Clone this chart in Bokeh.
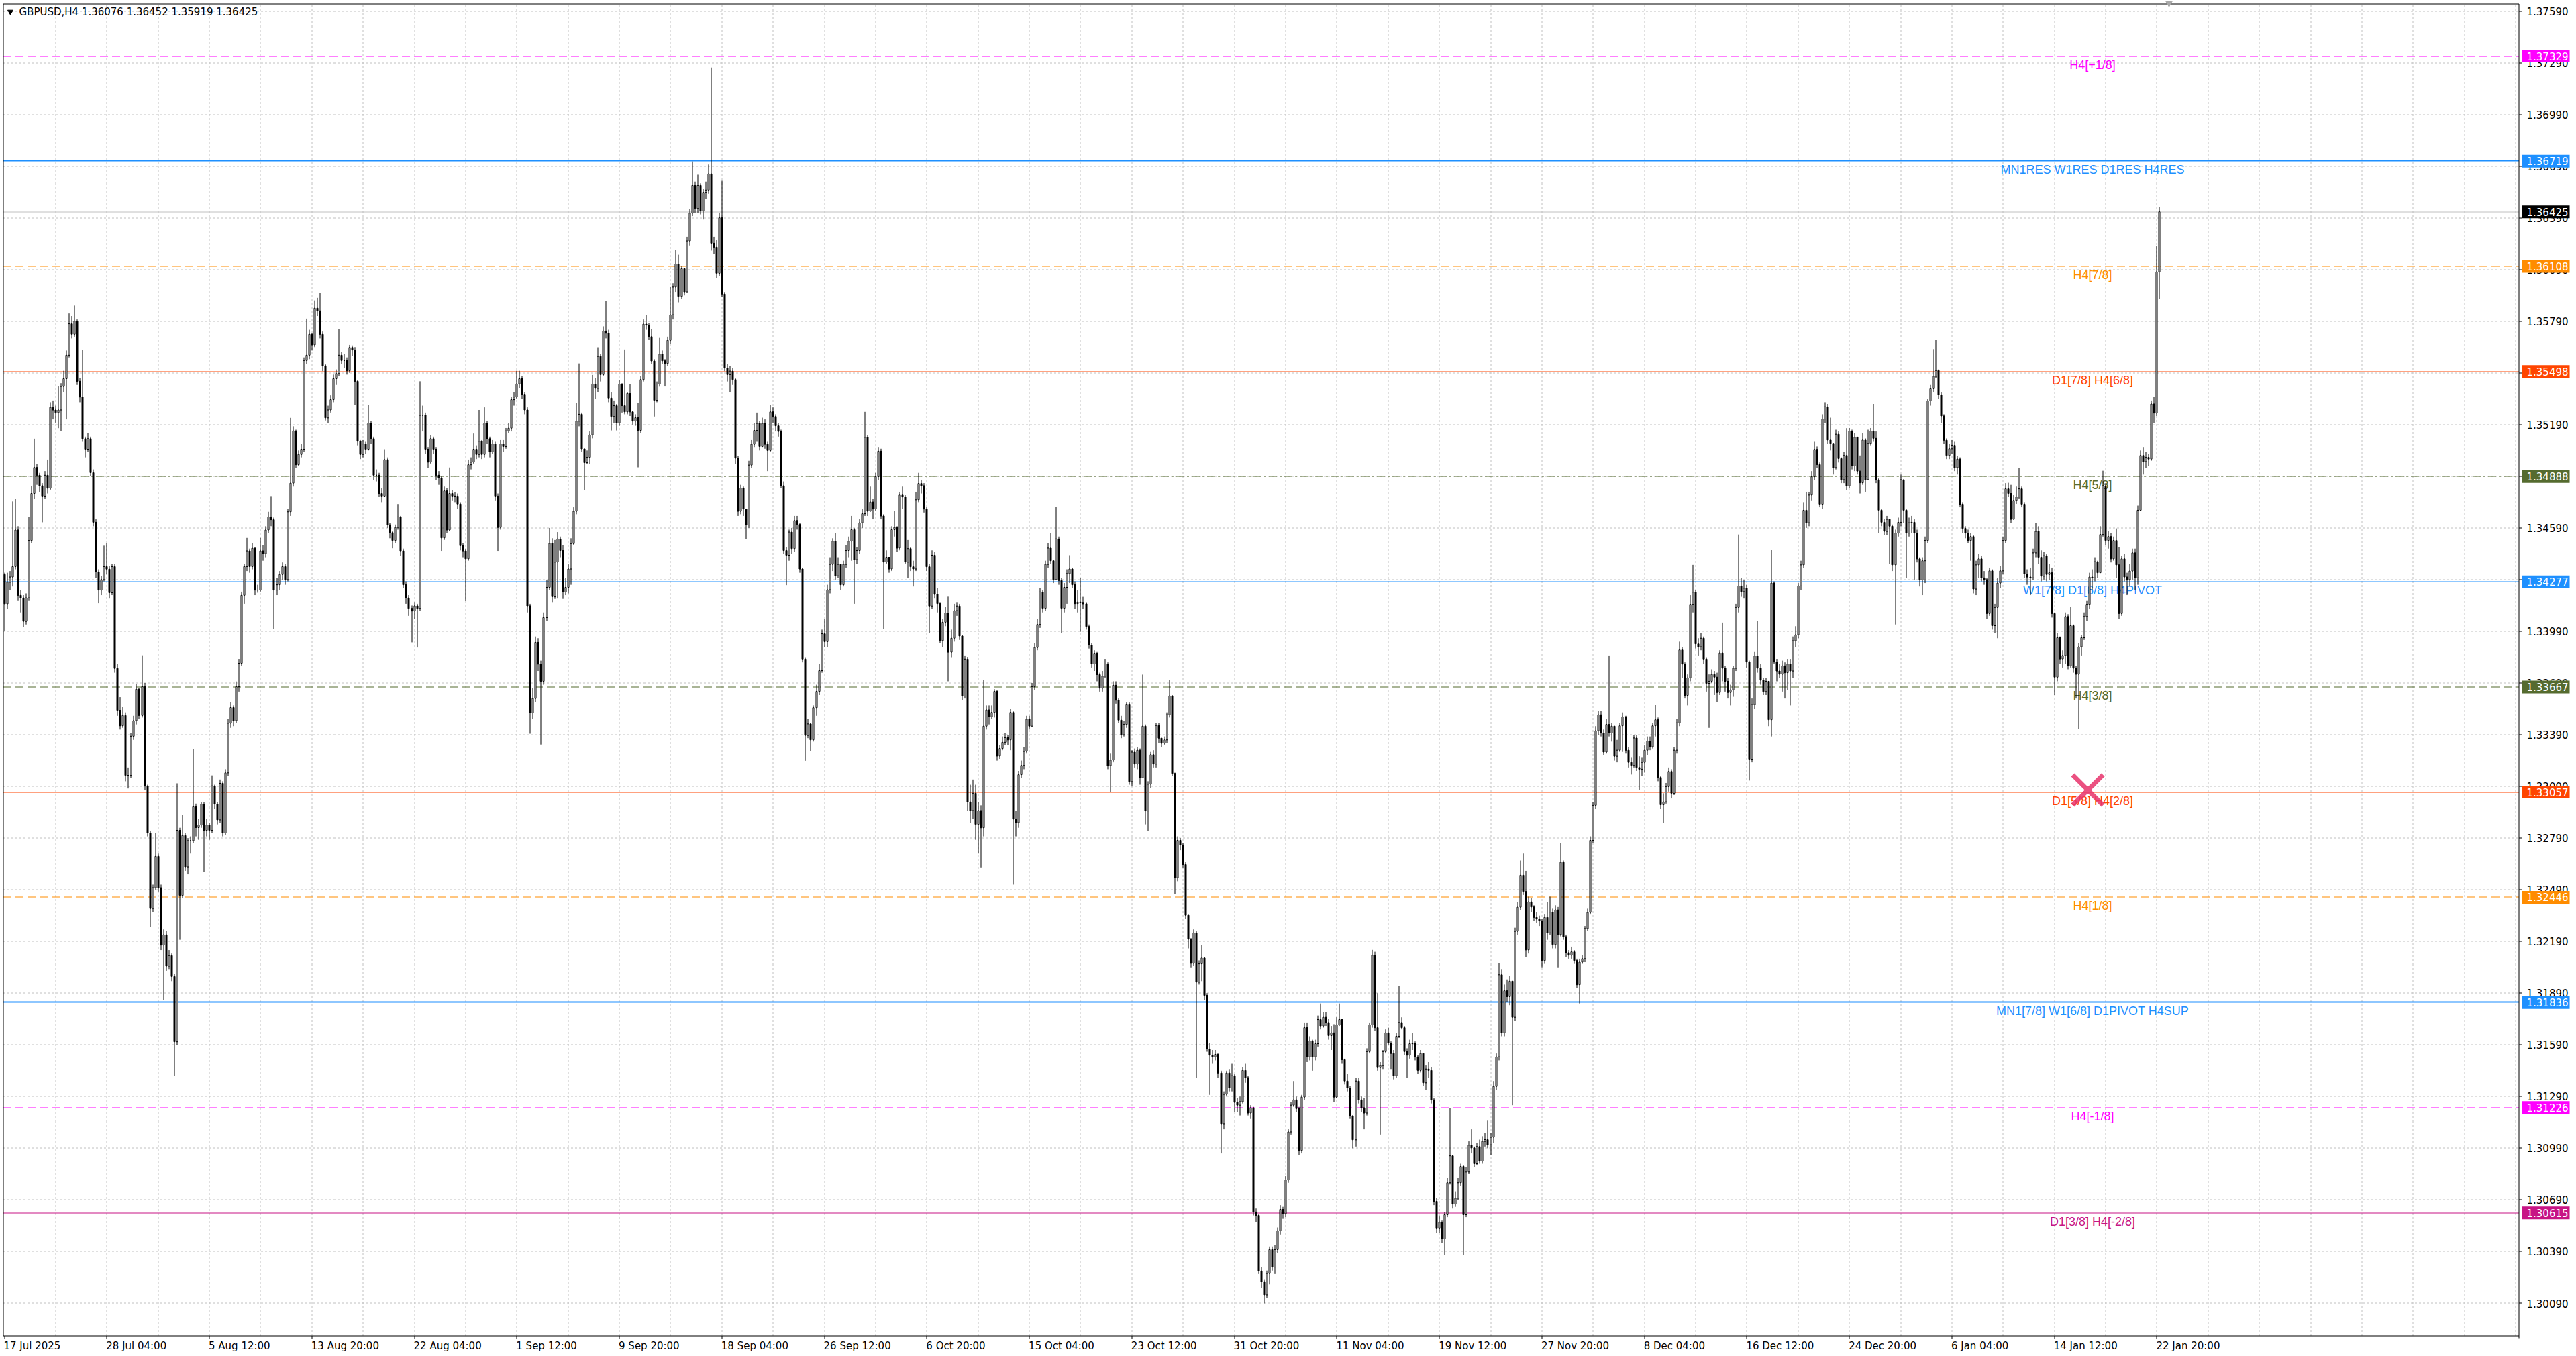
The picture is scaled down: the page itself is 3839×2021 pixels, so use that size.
import numpy as np
from bokeh.plotting import figure
from bokeh.models import ColumnDataSource, Range1d
from bokeh.core.properties import value
from bokeh.embed import file_html
from bokeh.resources import INLINE

title_text = "GBPUSD,H4  1.36076 1.36452 1.35919 1.36425"

# H4 bars, prices in points above 1.30000 (1 point = 0.00001); open = previous close
first_open = 4320
close_pts = [
    4150, 4275, 4305, 4366, 4578, 4199, 4184, 4048, 4184, 4517,
    4790, 4941, 4896, 4835, 4775, 4896, 4820, 5290, 5275, 5260,
    5275, 5411, 5456, 5593, 5775, 5714, 5790, 5441, 5350, 5108,
    5047, 5108, 4911, 4623, 4335, 4229, 4290, 4366, 4351, 4214,
    4366, 3775, 3532, 3442, 3502, 3154, 3154, 3381, 3472, 3654,
    3502, 3669, 3093, 2820, 2381, 2502, 2684, 2502, 2169, 2229,
    2047, 2108, 1987, 1608, 2835, 2457, 2805, 2623, 2775, 2775,
    2972, 2851, 2866, 2987, 2835, 2866, 2835, 3093, 2987, 2896,
    3108, 2820, 3169, 3457, 3548, 3472, 3669, 3805, 4199, 4366,
    4457, 4366, 4472, 4229, 4229, 4457, 4441, 4578, 4654, 4638,
    4229, 4260, 4320, 4366, 4290, 4684, 4850, 5153, 4957, 5017,
    5047, 5562, 5593, 5714, 5653, 5866, 5850, 5714, 5532, 5229,
    5275, 5335, 5456, 5486, 5593, 5562, 5562, 5502, 5638, 5623,
    5441, 5093, 5017, 5078, 5047, 5199, 5108, 4896, 4896, 4790,
    4775, 4987, 4608, 4563, 4517, 4593, 4654, 4457, 4260, 4184,
    4123, 4108, 4138, 4123, 5244, 5244, 5047, 4972, 5108, 5047,
    4896, 4881, 4532, 4805, 4578, 4790, 4775, 4775, 4729, 4487,
    4457, 4411, 4957, 4972, 5047, 5017, 5093, 5017, 5199, 5108,
    5032, 5078, 4775, 4593, 5078, 5063, 5153, 5169, 5335, 5350,
    5426, 5456, 5366, 5275, 4138, 3517, 3600, 3926, 3800, 3700,
    4070, 4245, 4500,
    4191, 4392, 4526, 4459, 4218, 4245, 4352, 4499, 4687, 5210,
    5250, 5049, 4969, 5000, 5130, 5425, 5400, 5586, 5480, 5733,
    5720, 5344, 5237, 5300, 5200, 5425, 5300, 5264, 5371, 5264,
    5210, 5230, 5156, 5451, 5773, 5767, 5700, 5559, 5331, 5425,
    5599, 5560, 5545, 5679, 5827, 5988, 6122, 5934, 6095, 5960,
    6256, 6417, 6578, 6444, 6578, 6430, 6538, 6551, 6645, 6243,
    6220, 6068, 6390, 5948, 5518, 5480, 5500, 5451, 4995, 4687,
    4821, 4700, 4607, 4955, 5076, 5156, 5197, 5063, 5197, 5076,
    5040, 5264, 5237, 5183, 5150, 4835, 4459, 4432, 4566, 4470,
    4633, 4610, 4352, 3829, 3386, 3453, 3360, 3547, 3641, 3762,
    3976, 3930, 4231, 4379, 4513, 4312, 4379, 4260, 4379, 4459,
    4513, 4580, 4406, 4459, 4620, 4673, 5116, 4687, 4741, 4700,
    4888, 5036, 4660, 4392, 4420, 4352, 4580, 4593, 4473, 4781,
    4770, 4392, 4470, 4365, 4352, 4754, 4848, 4835, 4700, 4365,
    4137, 4432, 4204, 4151, 3936, 4043, 4097, 3869, 3950, 4110,
    4137, 3963, 3614, 3829,
    3000, 2950, 3050, 2870, 2950, 2850, 3440, 3534, 3494, 3520,
    3641, 3266, 3310, 3346, 3373, 3360, 3520, 2900, 2880, 3158,
    3212, 3293, 3480, 3440, 3668, 3896, 4030, 4218, 4124, 4379,
    4473, 4400, 4290, 4526, 4285, 4124, 4245, 4325, 4352, 4260,
    4151, 4160,
    4158, 4150, 4018, 3910, 3801, 3863, 3739, 3660, 3730, 3801,
    3211, 3243, 3677, 3590, 3475, 3390, 3450, 3568, 3118, 3289,
    3220, 3300, 3140, 3440, 2948, 3103, 3274, 3220, 3444, 3370,
    3340, 3360, 3506, 3615, 3165, 2560, 2777, 2750, 2637, 2342,
    2203, 2063, 2240, 1954, 2060, 2094, 1877, 1566, 1530, 1520,
    1535, 1427, 1132, 1303, 1427, 1340, 1411, 1256, 1240, 1260,
    1442, 1400, 1194, 1225, 620, 600, 278, 216, 139, 263,
    402, 300, 402, 511, 635, 610, 806, 1085, 1240, 1271,
    1220, 977, 1287, 1690, 1520, 1613, 1520, 1597, 1737, 1700,
    1750, 1720, 1644, 1660, 1287, 1706, 1737, 1504, 1380, 1340,
    1178, 1039, 1380, 1271, 1225, 1194, 1551, 1706, 2110, 1690,
    1458, 1470, 1551, 1660, 1600, 1540, 1411, 1640, 1720, 1690,
    1551, 1530, 1597, 1600, 1520, 1442, 1540, 1370, 1450, 1442,
    1271, 682, 527, 560, 464, 604, 790, 946, 666, 700,
    790, 884, 604, 852, 1008, 992, 900, 1000, 915, 1030,
    1040, 1010, 1054, 1349, 1520, 1997, 1660, 1904, 1870, 1960,
    1750, 2249, 2389, 2575, 2480, 2141, 2420, 2390, 2330, 2320,
    2310, 2079, 2330, 2240, 2360, 2172, 2373, 2230, 2650, 2218,
    2125, 2110, 2130, 2079, 1939, 2070, 2090, 2265, 2358, 2777,
    2980, 3413, 3506, 3400, 3289, 3450, 3400, 3440,
    3265, 3300, 3442, 3494, 3300, 3230, 3212, 3371, 3200, 3190,
    3230, 3300, 3353, 3320, 3442, 3477, 3142, 2983, 3000, 3089,
    3177, 3050, 3300, 3459, 3882, 3800, 3618, 3720, 4147, 4217,
    3917, 3900, 3950, 3829, 3688, 3700, 3740, 3724, 3635, 3865,
    3776, 3700, 3635, 3650, 3776, 4129, 4253, 4220, 4240, 3812,
    3248, 3565, 3847,
    3776, 3706, 3640, 3700, 3477, 4270, 3812, 3760, 3741, 3790,
    3750, 3800, 3760, 3935, 3970, 4253, 4376, 4693, 4620, 4781,
    4887, 5046, 4958, 4728, 5222, 5293, 5100, 5081, 4940, 5134,
    4993, 4870, 5011, 4834, 5152, 4950, 5116, 4920, 4852, 5100,
    4870, 5081, 5152, 5110, 4870, 4693, 4623, 4570, 4640, 4600,
    4376, 4560, 4623, 4870, 4693, 4560, 4620, 4623, 4560, 4411,
    4288, 4400, 4517, 5328, 5398, 5470, 5504, 5363, 5240, 5099,
    5011, 5050, 5070, 4940, 4990, 4728, 4587, 4560, 4517, 4540,
    4235, 4376, 4411, 4300, 4290, 4094, 4341, 4023, 4129, 4270,
    4341, 4517, 4817, 4790, 4640, 4750, 4770, 4817, 4728, 4323,
    4305, 4300, 4446, 4570, 4420, 4310, 4429, 4320, 4330, 4094,
    3724, 3953, 3830, 3850, 4076, 3790, 4023, 3776, 3741, 3900,
    3953, 4076, 4147, 4305, 4300, 4394, 4330, 4552, 4834, 4517,
    4540, 4411, 4517, 4376, 4094, 4411, 4305, 4290, 4340, 4446,
    4300, 4693, 5011, 4975, 5000, 4990, 5310, 5257, 6076, 6425,
]
high_pts = [
    4330, 4330, 4340, 4744, 4760, 4600, 4230, 4200, 4210, 4654,
    4835, 5108, 4960, 4910, 4850, 4920, 4987, 5320, 5330, 5300,
    5411, 5430, 5502, 5620, 5835, 5820, 5881, 5800, 5460, 5623,
    5120, 5140, 5120, 4930, 4640, 4350, 4310, 4487, 4502, 4370,
    4381, 4380, 3800, 3608, 3550, 3520, 3200, 3400, 3500, 3684,
    3660, 3851, 3690, 3100, 2830, 2520, 2820, 2700, 2520, 2260,
    2250, 2140, 2120, 2000, 3108, 2850, 2926, 2820, 2790, 2800,
    3305, 2990, 2900, 3000, 3000, 2900, 2880, 3154, 3100, 3000,
    3130, 3120, 3190, 3480, 3580, 3560, 3699, 3830, 4220, 4380,
    4532, 4470, 4500, 4480, 4260, 4532, 4490, 4600, 4684, 4775,
    4650, 4300, 4340, 4390, 4380, 4700, 5229, 5180, 5160, 5040,
    5080, 5580, 5805, 5740, 5720, 5911, 5926, 5956, 5730, 5540,
    5300, 5360, 5480, 5510, 5744, 5610, 5600, 5580, 5653, 5650,
    5640, 5450, 5100, 5100, 5090, 5305, 5210, 5120, 4930, 4910,
    4820, 5047, 5000, 4620, 4570, 4610, 4729, 4660, 4470, 4280,
    4200, 4140, 4160, 4150, 5441, 5300, 5260, 5060, 5130, 5120,
    5060, 4920, 4890, 4830, 4820, 4941, 4810, 4800, 4790, 4740,
    4500, 4470, 4987, 5000, 5138, 5070, 5275, 5100, 5290, 5210,
    5120, 5100, 5090, 4790, 5100, 5100, 5170, 5200, 5350, 5380,
    5502, 5502, 5470, 5380, 5290, 4150, 3660, 3960, 3950, 3820,
    4100, 4290, 4590,
    4530, 4520, 4566, 4540, 4490, 4300, 4380, 4530, 4710, 5317,
    5545, 5260, 5050, 5040, 5150, 5478, 5460, 5639, 5600, 5760,
    5907, 5740, 5380, 5330, 5310, 5450, 5430, 5626, 5380, 5425,
    5270, 5250, 5317, 5470, 5800, 5827, 5780, 5746, 5570, 5440,
    5693, 5620, 5570, 5700, 5988, 6010, 6202, 6176, 6110, 6100,
    6280, 6440, 6717, 6600, 6640, 6590, 6560, 6600, 6699, 7262,
    6280, 6260, 6420, 6605, 5960, 5540, 5530, 5520, 5460, 5010,
    4840, 4830, 4700, 4980, 5100, 5200, 5260, 5210, 5230, 5220,
    5090, 5304, 5290, 5250, 5200, 5160, 4860, 4480, 4580, 4590,
    4660, 4660, 4620, 4360, 3840, 3480, 3460, 3560, 3680, 3800,
    4000, 4060, 4260, 4420, 4530, 4560, 4420, 4380, 4400, 4490,
    4540, 4660, 4590, 4480, 4640, 4700, 5264, 5130, 4830, 4760,
    4910, 5060, 5050, 4670, 4460, 4420, 4600, 4690, 4600, 4800,
    4830, 4780, 4520, 4480, 4400, 4800, 4910, 4870, 4850, 4710,
    4380, 4460, 4450, 4240, 4160, 4060, 4130, 4191, 4000, 4150,
    4160, 4150, 3970, 3850,
    3842, 3100, 3130, 3100, 3000, 2980, 3708, 3560, 3560, 3560,
    3654, 3650, 3330, 3380, 3400, 3390, 3540, 3530, 2950, 3180,
    3240, 3320, 3500, 3500, 3690, 3920, 4060, 4240, 4230, 4400,
    4500, 4560, 4400, 4714, 4540, 4300, 4270, 4350, 4432, 4360,
    4280, 4230,
    4300, 4190, 4160, 4030, 3920, 3880, 3870, 3750, 3760, 3830,
    3810, 3280, 3700, 3700, 3600, 3500, 3470, 3580, 3580, 3300,
    3310, 3320, 3310, 3739, 3450, 3120, 3290, 3300, 3460, 3460,
    3370, 3380, 3520, 3708, 3620, 3170, 2800, 2790, 2760, 2650,
    2350, 2210, 2260, 2250, 2080, 2170, 2100, 1890, 1600, 1560,
    1560, 1540, 1440, 1320, 1440, 1450, 1480, 1420, 1280, 1290,
    1460, 1480, 1410, 1240, 1230, 640, 610, 300, 230, 280,
    420, 420, 430, 530, 660, 650, 830, 1100, 1260, 1380,
    1290, 1230, 1300, 1720, 1720, 1640, 1620, 1620, 1760, 1830,
    1780, 1780, 1740, 1700, 1710, 1750, 1830, 1740, 1510, 1420,
    1350, 1180, 1400, 1400, 1290, 1280, 1570, 1720, 2141, 2130,
    1890, 1490, 1560, 1680, 1690, 1610, 1560, 1660, 1930, 1750,
    1700, 1570, 1620, 1660, 1610, 1530, 1560, 1540, 1470, 1490,
    1460, 1280, 700, 600, 570, 620, 820, 1225, 950, 740,
    820, 900, 890, 880, 1030, 1100, 1000, 1020, 1040, 1060,
    1080, 1150, 1080, 1380, 1540, 2063, 2030, 1940, 1970, 1990,
    1960, 2270, 2420, 2660, 2700, 2600, 2450, 2440, 2400, 2360,
    2340, 2320, 2350, 2420, 2450, 2380, 2400, 2390, 2760, 2660,
    2230, 2140, 2160, 2140, 2090, 2090, 2110, 2280, 2380, 2800,
    3000, 3440, 3530, 3530, 3420, 3480, 3850, 3460,
    3430, 3360, 3460, 3520, 3500, 3320, 3260, 3390, 3390, 3265,
    3260, 3330, 3380, 3380, 3460, 3565, 3490, 3150, 3050, 3110,
    3200, 3190, 3320, 3480, 3930, 3900, 3810, 3740, 4200, 4376,
    4230, 3950, 3980, 3960, 3840, 3740, 3770, 3760, 3750, 3880,
    4041, 3790, 3720, 3680, 3790, 4150, 4552, 4300, 4290, 4260,
    3820, 3600, 3870,
    4050, 3800, 3720, 3720, 3700, 4464, 4280, 3830, 3800, 3820,
    3810, 3830, 3830, 3960, 4020, 4270, 4400, 4740, 4800, 4800,
    4920, 5090, 5063, 4970, 5250, 5320, 5310, 5230, 5060, 5160,
    5150, 5000, 5030, 5169, 5170, 5160, 5140, 5120, 5011, 5140,
    5110, 5160, 5170, 5310, 5150, 4880, 4700, 4640, 4660, 4640,
    4610, 4580, 4650, 4900, 4740, 4700, 4650, 4660, 4640, 4580,
    4420, 4420, 4540, 5340, 5420, 5628, 5681, 5510, 5380, 5250,
    5110, 5080, 5100, 5090, 5010, 5000, 4740, 4600, 4580, 4560,
    4550, 4400, 4440, 4430, 4340, 4300, 4360, 4350, 4150, 4300,
    4370, 4540, 4850, 4852, 4840, 4780, 4830, 4940, 4830, 4740,
    4350, 4360, 4470, 4620, 4600, 4460, 4450, 4440, 4380, 4360,
    4100, 3980, 3960, 3880, 4100, 4090, 4130, 4030, 3790, 3920,
    3970, 4100, 4170, 4330, 4350, 4420, 4400, 4600, 4922, 4850,
    4570, 4560, 4540, 4587, 4480, 4430, 4440, 4330, 4380, 4470,
    4470, 4720, 5040, 5060, 5030, 5020, 5330, 5350, 6227, 6452,
]
low_pts = [
    3990, 4120, 4230, 4250, 4350, 4170, 4100, 4017, 4030, 4170,
    4500, 4760, 4840, 4800, 4623, 4760, 4790, 4810, 5220, 5200,
    5169, 5153, 5380, 5220, 5580, 5690, 5700, 5420, 5320, 5090,
    5000, 5030, 4890, 4600, 4300, 4153, 4200, 4280, 4320, 4180,
    4200, 3750, 3500, 3420, 3430, 3120, 3078, 3140, 3360, 3450,
    3480, 3490, 3070, 2800, 2275, 2360, 2490, 2480, 2140, 1851,
    2020, 2030, 1960, 1411, 1590, 2200, 2440, 2600, 2580, 2700,
    2760, 2800, 2780, 2850, 2593, 2800, 2780, 2820, 2960, 2870,
    2880, 2800, 2810, 3150, 3430, 3440, 3460, 3640, 3790, 4150,
    4340, 4330, 4350, 4200, 4214, 4220, 4400, 4420, 4560, 4600,
    4002, 4200, 4230, 4290, 4260, 4280, 4660, 4830, 4940, 4950,
    5000, 5030, 5540, 5570, 5620, 5640, 5820, 5690, 5500, 5214,
    5200, 5260, 5320, 5420, 5470, 5540, 5520, 5480, 5490, 5590,
    5305, 5070, 4990, 5000, 5020, 5040, 5080, 4866, 4860, 4770,
    4740, 4770, 4590, 4530, 4472, 4500, 4580, 4430, 4240, 4150,
    4080, 3926, 4060, 3896, 4110, 5150, 5020, 4940, 4960, 5020,
    4870, 4840, 4457, 4520, 4560, 4570, 4750, 4740, 4700, 4460,
    4420, 4169, 4400, 4930, 4960, 4990, 5000, 4990, 5000, 5080,
    5000, 5020, 4750, 4457, 4580, 5030, 5050, 5140, 5150, 5300,
    5340, 5400, 5340, 5250, 4100, 3396, 3480, 3580, 3760, 3333,
    3680, 4050, 4230,
    4160, 4178, 4180, 4420, 4178, 4200, 4210, 4260, 4490, 4670,
    5180, 5030, 4808, 4960, 4960, 5110, 5340, 5380, 5440, 5470,
    5690, 5320, 5156, 5200, 5156, 5183, 5260, 5250, 5250, 5240,
    5190, 5183, 4942, 5140, 5440, 5740, 5680, 5540, 5237, 5320,
    5410, 5540, 5411, 5530, 5660, 5800, 5960, 5900, 5920, 5940,
    5990, 6230, 6400, 6420, 6420, 6410, 6380, 6500, 6530, 6200,
    6180, 6040, 6050, 5930, 5500, 5440, 5380, 5420, 4960, 4660,
    4670, 4660, 4526, 4590, 4940, 5060, 5090, 5040, 5060, 5050,
    4920, 5030, 5200, 5150, 5120, 4820, 4440, 4258, 4400, 4440,
    4450, 4580, 4330, 3810, 3239, 3370, 3293, 3350, 3500, 3620,
    3750, 3900, 3900, 4210, 4340, 4290, 4300, 4230, 4250, 4360,
    4420, 4400, 4150, 4380, 4440, 4590, 4660, 4660, 4700, 4640,
    4690, 4870, 4640, 4003, 4380, 4330, 4340, 4540, 4450, 4460,
    4700, 4380, 4300, 4340, 4250, 4340, 4740, 4790, 4680, 4340,
    3980, 4120, 4180, 4100, 3920, 3900, 4020, 3700, 3840, 3930,
    4080, 3940, 3590, 3600,
    2950, 2880, 2900, 2780, 2700, 2620, 2800, 3420, 3450, 3480,
    3490, 3240, 3250, 3300, 3330, 3330, 3300, 2520, 2800, 2850,
    3140, 3190, 3280, 3420, 3440, 3650, 3880, 4010, 4100, 4110,
    4360, 4380, 4270, 4350, 4260, 3980, 4100, 4150, 4270, 4240,
    4120, 4100,
    3987, 4120, 4000, 3890, 3780, 3760, 3700, 3640, 3640, 3720,
    3190, 3056, 3230, 3570, 3460, 3370, 3380, 3430, 3100, 3090,
    3200, 3190, 3100, 3180, 2870, 2830, 3080, 3200, 3200, 3340,
    3320, 3330, 3340, 3490, 3150, 2466, 2540, 2720, 2620, 2320,
    2150, 2040, 2050, 1400, 1940, 1960, 1850, 1550, 1300, 1480,
    1500, 1400, 960, 1100, 1290, 1320, 1320, 1200, 1200, 1180,
    1250, 1370, 1180, 1160, 600, 560, 260, 180, 90, 120,
    200, 280, 260, 380, 490, 580, 590, 790, 1070, 1230,
    1200, 950, 960, 1270, 1490, 1500, 1440, 1500, 1580, 1680,
    1690, 1700, 1620, 1560, 1260, 1280, 1700, 1480, 1360, 1320,
    1160, 990, 1000, 1250, 1200, 1100, 1180, 1540, 1690, 1670,
    1440, 1070, 1450, 1540, 1590, 1450, 1390, 1400, 1630, 1680,
    1530, 1400, 1510, 1560, 1500, 1420, 1430, 1350, 1330, 1400,
    1250, 660, 500, 500, 440, 371, 590, 780, 640, 650,
    690, 770, 371, 590, 840, 960, 880, 890, 900, 900,
    1000, 990, 950, 1020, 1330, 1500, 1640, 1640, 1840, 1820,
    1240, 1730, 2230, 2370, 2460, 2100, 2120, 2360, 2310, 2300,
    2280, 2040, 2060, 2200, 2230, 2150, 2150, 2040, 2220, 2200,
    2100, 2090, 2090, 2060, 1920, 1830, 2060, 2070, 2250, 2350,
    2760, 2960, 3390, 3380, 3270, 3280, 3380, 3350,
    3240, 3230, 3290, 3290, 3280, 3200, 3159, 3200, 3180, 3071,
    3150, 3170, 3270, 3300, 3310, 3380, 3120, 2960, 2877, 2990,
    3060, 3020, 3040, 3280, 3440, 3720, 3600, 3560, 3700, 4100,
    3890, 3850, 3880, 3800, 3640, 3430, 3690, 3620, 3580, 3620,
    3700, 3640, 3600, 3560, 3610, 3760, 4100, 4190, 4180, 3780,
    3124, 3230, 3540,
    3750, 3680, 3620, 3620, 3440, 3380, 3800, 3700, 3720, 3640,
    3600, 3650, 3560, 3720, 3900, 3950, 4230, 4360, 4590, 4600,
    4750, 4870, 4940, 4710, 4700, 5200, 5080, 5040, 4900, 4930,
    4970, 4850, 4850, 4810, 4820, 4930, 4920, 4900, 4790, 4840,
    4800, 5020, 5070, 5090, 4850, 4560, 4600, 4550, 4550, 4380,
    4340, 4030, 4540, 4600, 4620, 4300, 4540, 4560, 4290, 4390,
    4250, 4200, 4270, 4500, 5300, 5380, 5460, 5340, 5200, 5080,
    4990, 4990, 5020, 4920, 4900, 4710, 4560, 4530, 4500, 4400,
    4210, 4200, 4300, 4280, 4260, 4060, 4080, 4000, 3980, 3950,
    4240, 4320, 4500, 4770, 4620, 4700, 4730, 4760, 4710, 4300,
    4260, 4200, 4290, 4420, 4380, 4280, 4290, 4280, 4290, 4070,
    3620, 3700, 3800, 3780, 3800, 3770, 3780, 3750, 3600, 3424,
    3850, 3940, 4050, 4120, 4230, 4280, 4300, 4330, 4540, 4490,
    4470, 4390, 4400, 4300, 4060, 4080, 4280, 4200, 4250, 4290,
    4230, 4260, 4690, 4900, 4940, 4950, 4980, 5200, 5240, 5919,
]

date_ticks = [0, 38, 76, 114, 152, 190, 228, 266, 304, 342, 380,
              418, 456, 494, 532, 570, 608, 646, 684, 722, 760, 798]
date_labels = ["17 Jul 2025", "28 Jul 04:00", "5 Aug 12:00", "13 Aug 20:00", "22 Aug 04:00",
               "1 Sep 12:00", "9 Sep 20:00", "18 Sep 04:00", "26 Sep 12:00", "6 Oct 20:00",
               "15 Oct 04:00", "23 Oct 12:00", "31 Oct 20:00", "11 Nov 04:00", "19 Nov 12:00",
               "27 Nov 20:00", "8 Dec 04:00", "16 Dec 12:00", "24 Dec 20:00", "6 Jan 04:00",
               "14 Jan 12:00", "22 Jan 20:00"]
price_ticks = [1.30090, 1.30390, 1.30690, 1.30990, 1.31290, 1.31590, 1.31890, 1.32190,
               1.32490, 1.32790, 1.33090, 1.33390, 1.33690, 1.33990, 1.34290, 1.34590,
               1.34890, 1.35190, 1.35490, 1.35790, 1.36090, 1.36390, 1.36690, 1.36990,
               1.37290, 1.37590]
grid_bars = [19 * k for k in range(1, 50)]

level_prices = [1.37329, 1.36719, 1.36108, 1.35498, 1.34888, 1.34277,
                1.33667, 1.33057, 1.32446, 1.31836, 1.31226, 1.30615]
level_names = ["H4[+1/8]", "MN1RES W1RES D1RES H4RES", "H4[7/8]", "D1[7/8] H4[6/8]",
               "H4[5/8]", "W1[7/8] D1[6/8] H4PIVOT", "H4[3/8]", "D1[5/8] H4[2/8]",
               "H4[1/8]", "MN1[7/8] W1[6/8] D1PIVOT H4SUP", "H4[-1/8]", "D1[3/8] H4[-2/8]"]
level_colors = ["#FF00FF", "#1E90FF", "#FF8C00", "#FF4500", "#556B2F", "#1E90FF",
                "#556B2F", "#FF4500", "#FF8C00", "#1E90FF", "#FF00FF", "#C71585"]
level_dash = ["12 6", "solid", "12 6", "solid", "12 4 3 4", "solid",
              "12 6", "solid", "12 6", "solid", "12 6", "solid"]
level_width = [1, 2, 1, 1, 1, 1, 1, 1, 1, 2, 1, 1]

last_price = 1.36425
signal_bar, signal_price = 772.4, 1.33069

# ---- window geometry in screen pixels (MT4 layout)
W, H = 3839, 2021
SX0, BX = 6.0, 4.02                  # screen x of bar 0, px per bar
P_REF, SY_REF = 1.37590, 16.0        # a scale price and its screen y
PY = 0.001 / 25.68                   # price per px
LEFT, TOP, RIGHT, BOTTOM = 4, 5, 3753, 1990   # chart area box


def bx(sx):
    return (sx - SX0) / BX


def py(sy):
    return P_REF - (sy - SY_REF) * PY


def snap_x(bar):
    return bx(np.floor(SX0 + BX * np.asarray(bar, dtype=float)) + 0.5)


def snap_y(price, width=1):
    sy = SY_REF + (P_REF - np.asarray(price, dtype=float)) / PY
    return py(np.floor(sy) + (0.5 if width % 2 else 0.0))


X0, X1 = bx(LEFT + 0.5), bx(RIGHT + 0.5)
Y0, Y1 = py(BOTTOM + 0.5), py(TOP + 0.5)
FONT = value("DejaVu Sans")

# ---- candles
n = min(len(close_pts), len(high_pts), len(low_pts))
c = 1.3 + np.array(close_pts[:n]) / 1e5
o = np.concatenate([[1.3 + first_open / 1e5], c[:-1]])
h = np.maximum(1.3 + np.array(high_pts[:n]) / 1e5, np.maximum(o, c))
l = np.minimum(1.3 + np.array(low_pts[:n]) / 1e5, np.minimum(o, c))
bars = ColumnDataSource(dict(
    x=snap_x(np.arange(n)), h=h, l=l,
    top=np.maximum(o, c), bottom=np.minimum(o, c),
    fill=np.where(c >= o, "white", "black"),
))

p = figure(width=W, height=H, x_range=Range1d(bx(0), bx(W)), y_range=Range1d(py(H), py(0)),
           x_axis_location=None, y_axis_location=None,
           output_backend="svg", toolbar_location=None,
           min_border_left=0, min_border_right=0, min_border_top=0, min_border_bottom=0)
p.grid.visible = False
p.outline_line_color = None
p.background_fill_color = "white"
p.border_fill_color = "white"

# dotted grid inside the chart area
gy = snap_y(price_ticks)
gx = snap_x(grid_bars)
p.segment(x0=X0, x1=X1, y0=gy, y1=gy, line_color="#C0C0C0", line_dash="3 3", line_width=1)
p.segment(x0=gx, x1=gx, y0=Y0, y1=Y1, line_color="#C0C0C0", line_dash="3 3", line_width=1)

# level labels sit behind the candles, just under their line
lab = ColumnDataSource(dict(x=[bx(3118)] * len(level_prices),
                            y=[v - 3 * PY for v in level_prices],
                            text=level_names, color=level_colors))
p.text(x="x", y="y", text="text", text_color="color", source=lab,
       text_font=value("Liberation Sans"), text_font_size="18px",
       text_align="center", text_baseline="top")

for price, col, dash, w in zip(level_prices, level_colors, level_dash, level_width):
    yy = float(snap_y(price, w))
    p.segment(x0=[X0], x1=[X1], y0=[yy], y1=[yy], line_color=col, line_dash=dash, line_width=w)
yy = float(snap_y(last_price))
p.segment(x0=[X0], x1=[X1], y0=[yy], y1=[yy], line_color="#C0C0C0", line_width=1)

p.segment(x0="x", y0="l", x1="x", y1="h", source=bars, line_color="black", line_width=1)
p.vbar(x="x", width=2 / BX, top="top", bottom="bottom", source=bars,
       fill_color="fill", line_color="black", line_width=1)

p.scatter(x=[signal_bar], y=[signal_price], marker="x", size=64,
          line_color="#E8336B", line_width=7, line_alpha=0.85)

# chart frame
p.segment(x0=[X0, X0, X1, X0], x1=[X1, X0, X1, X1],
          y0=[Y1, Y0, py(BOTTOM + 4), Y0], y1=[Y1, Y1, Y1, Y0],
          line_color="black", line_width=1)

# price scale
p.segment(x0=X1, x1=bx(RIGHT + 5), y0=gy, y1=gy, line_color="black")
p.text(x=bx(RIGHT + 12), y=price_ticks, text=[f"{v:.5f}" for v in price_ticks],
       text_font=FONT, text_font_size="15px", text_color="black",
       text_align="left", text_baseline="middle")

tag_prices = level_prices + [last_price]
tag_colors = level_colors + ["black"]
p.quad(left=bx(RIGHT + 5), right=bx(RIGHT + 76),
       bottom=[v - 9.5 * PY for v in tag_prices], top=[v + 9.5 * PY for v in tag_prices],
       fill_color=tag_colors, line_color=None)
p.text(x=bx(RIGHT + 12), y=tag_prices, text=[f"{v:.5f}" for v in tag_prices],
       text_font=FONT, text_font_size="15px", text_color="white",
       text_align="left", text_baseline="middle")

# time scale
tx = snap_x(date_ticks)
p.segment(x0=tx, x1=tx, y0=Y0, y1=py(BOTTOM + 5), line_color="black")
p.text(x=bx(SX0 + BX * np.array(date_ticks) - 1), y=py(BOTTOM + 6), text=date_labels,
       text_font=FONT, text_font_size="15px", text_color="black",
       text_align="left", text_baseline="top")

# header
p.scatter(x=[bx(15)], y=[py(17)], marker="inverted_triangle", size=8, color="black")
p.text(x=[bx(28)], y=[py(17)], text=[title_text], text_font=FONT,
       text_font_size="15px", text_color="black", text_align="left", text_baseline="middle")
p.scatter(x=[bx(3232)], y=[py(4)], marker="inverted_triangle", size=10, color="#A8A8A8")

open("out.html", "w").write(file_html(p, INLINE))
